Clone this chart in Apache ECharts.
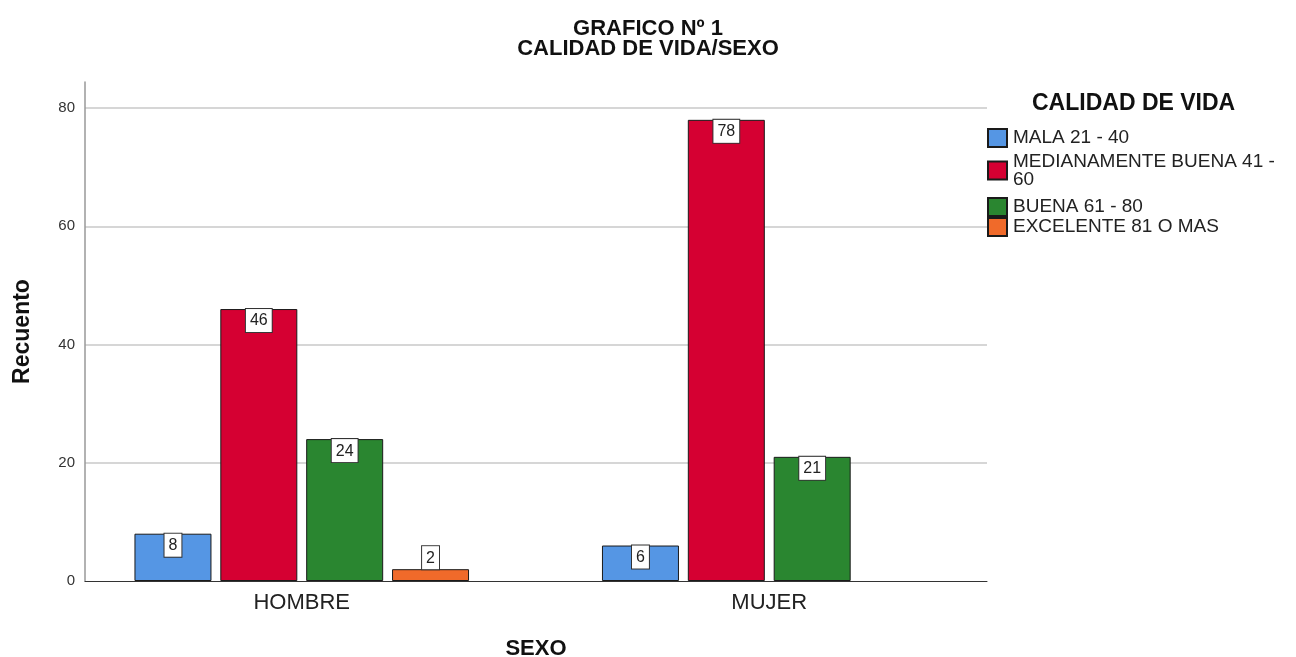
<!DOCTYPE html>
<html>
<head>
<meta charset="utf-8">
<script src="https://cdn.jsdelivr.net/npm/echarts@6/dist/echarts.min.js"></script>
<style>
html,body{margin:0;padding:0;background:#fff;}
#chart{width:1296px;height:657px;}
</style>
</head>
<body>
<div id="chart"></div>
<script>
const categories = ['HOMBRE', 'MUJER'];
const seriesNames = ['MALA 21 - 40', 'MEDIANAMENTE BUENA 41 - 60', 'BUENA 61 - 80', 'EXCELENTE 81 O MAS'];
const mala = [8, 6];
const medianamente = [46, 78];
const buena = [24, 21];
const excelente = [2, null];
const yTicks = [0, 20, 40, 60, 80];
const titleLines = ['GRAFICO Nº 1', 'CALIDAD DE VIDA/SEXO'];
const colors = ['#5596e4', '#d50032', '#2a8630', '#f06a2a'];

const values = [mala, medianamente, buena, excelente];
const FONT = '"Liberation Sans", Arial, sans-serif';

const chart = echarts.init(document.getElementById('chart'), null, {renderer: 'canvas'});

const series = values.map((vals, i) => ({
  name: seriesNames[i],
  type: 'bar',
  xAxisIndex: 1,
  yAxisIndex: 1,
  barWidth: 77,
  barGap: '11.5%',
  itemStyle: {color: colors[i], borderColor: '#1a1a1a', borderWidth: 1},
  label: {
    show: true,
    position: 'insideTop',
    distance: 0,
    fontFamily: FONT,
    fontSize: 16,
    lineHeight: 16,
    color: '#222',
    backgroundColor: '#fff',
    borderColor: '#333',
    borderWidth: 1,
    padding: [4, 4, 3, 4]
  },
  data: vals.map(v => v == null ? '-' : (v < 4 ? {value: v, label: {position: 'top', distance: 0}} : v))
}));

const legendTops = [128, 152, 197, 217];
const legends = seriesNames.map((n, i) => ({
  data: [n],
  left: 987,
  top: legendTops[i],
  orient: 'vertical',
  padding: 0,
  icon: 'rect',
  itemWidth: 19,
  itemHeight: 18,
  itemGap: 0,
  selectedMode: false,
  textStyle: {fontFamily: FONT, fontSize: 19, lineHeight: 18, color: '#222', padding: [0,0,0,1]},
  formatter: name => {
    if (name.length > 22) {
      const idx = name.lastIndexOf(' ');
      return name.slice(0, idx) + '\n' + name.slice(idx + 1);
    }
    return name;
  }
}));

const titleStyle = {fontFamily: FONT, fontSize: 22, fontWeight: 'bold', color: '#111'};
const option = {
  backgroundColor: '#fff',
  animation: false,
  title: [
    {text: titleLines[0], left: 'center', top: 18, padding: 0, textStyle: titleStyle},
    {text: titleLines[1], left: 'center', top: 38, padding: 0, textStyle: titleStyle},
    {
      text: 'CALIDAD DE VIDA',
      left: 1032,
      top: 92,
      padding: 0,
      textStyle: {fontFamily: FONT, fontSize: 23, fontWeight: 'bold', color: '#111'}
    }
  ],
  legend: legends,
  grid: [
    {left: 85, right: 309, top: 82, bottom: 76, outerBoundsMode: 'none', containLabel: false},
    {left: 68, right: 293, top: 82, bottom: 76, outerBoundsMode: 'none', containLabel: false}
  ],
  xAxis: [
    {
      type: 'category',
      gridIndex: 0,
      data: categories,
      axisLine: {lineStyle: {color: '#333', width: 1}},
      axisTick: {show: false},
      axisLabel: {show: false},
      name: 'SEXO',
      nameLocation: 'middle',
      nameGap: 57,
      nameTextStyle: {fontFamily: FONT, fontSize: 22, fontWeight: 'bold', color: '#111'}
    },
    {
      type: 'category',
      gridIndex: 1,
      data: categories,
      axisLine: {show: false},
      axisTick: {show: false},
      axisLabel: {fontFamily: FONT, fontSize: 22, color: '#222', margin: 11}
    }
  ],
  yAxis: [
    {
      type: 'value',
      gridIndex: 0,
      min: yTicks[0],
      max: 84.4,
      interval: 20,
      axisLine: {show: true, lineStyle: {color: '#999', width: 1.5}},
      axisTick: {show: false},
      axisLabel: {fontFamily: FONT, fontSize: 15, color: '#333', margin: 10, showMaxLabel: false,
        formatter: v => yTicks.includes(v) ? String(v) : ''},
      splitLine: {show: true, showMaxLine: false, showMinLine: false, lineStyle: {color: '#c8c8c8', width: 1.5}},
      name: 'Recuento',
      nameLocation: 'middle',
      nameGap: 51,
      nameTextStyle: {fontFamily: FONT, fontSize: 23, fontWeight: 'bold', color: '#111'}
    },
    {
      type: 'value',
      gridIndex: 1,
      min: yTicks[0],
      max: 84.4,
      show: false,
      splitLine: {show: false}
    }
  ],
  series: series
};
chart.setOption(option);
</script>
</body>
</html>
